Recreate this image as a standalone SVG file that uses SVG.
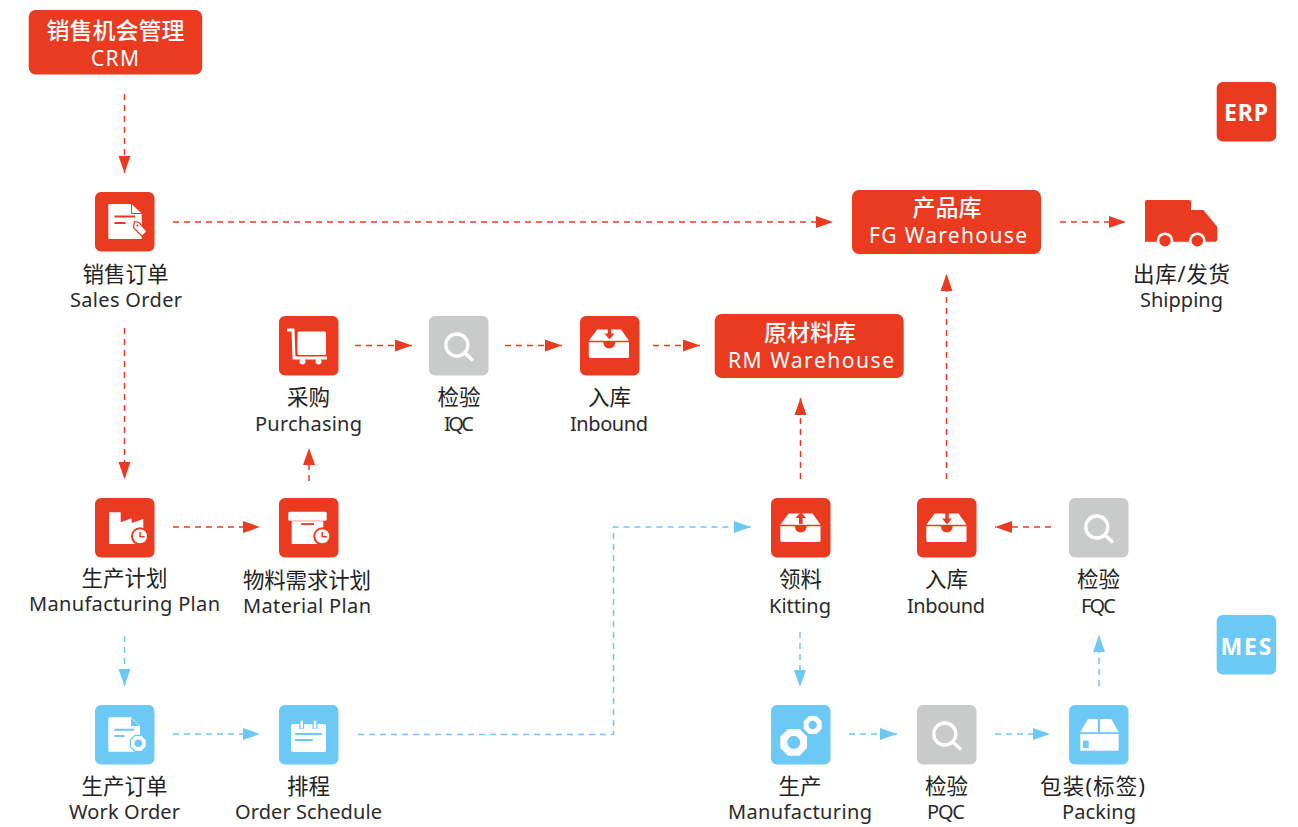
<svg xmlns="http://www.w3.org/2000/svg" width="1298" height="827" viewBox="0 0 1298 827">
<style>
text{font-family:"Noto Sans","Noto Sans CJK SC",sans-serif;text-anchor:middle}
.cn{font-size:21.500px;fill:#222}
.en{font-size:20px;fill:#2a2a2a}
.wcn{font-size:23px;fill:#fff;font-weight:500}
.wen{font-size:21px;fill:#fff}
.tag{font-size:23px;font-weight:700;fill:#fff}
.r{fill:#EA3A20}.b{fill:#6CC8F5}.g{fill:#C9CBCA}.w{fill:#fff}
.lr{fill:none;stroke:#EA3A20;stroke-width:1.5;stroke-dasharray:6 5;marker-end:url(#ar)}
.lb{fill:none;stroke:#6CC8F5;stroke-width:1.5;stroke-dasharray:6 5;marker-end:url(#ab)}
</style>
<defs>
<marker id="ar" markerUnits="userSpaceOnUse" markerWidth="18" markerHeight="14" refX="17" refY="7" orient="auto"><path d="M0 1L17 7L0 13Z" fill="#EA3A20"/></marker>
<marker id="ab" markerUnits="userSpaceOnUse" markerWidth="18" markerHeight="14" refX="17" refY="7" orient="auto"><path d="M0 1L17 7L0 13Z" fill="#6CC8F5"/></marker>
<rect id="tile" width="59.500" height="59.500" rx="6"/>
<g id="mag"><circle cx="27.800" cy="29" r="11" fill="none" stroke="#fff" stroke-width="3.400"/><path d="M35.800 37L44 44.500" stroke="#fff" stroke-width="3.600" fill="none"/></g>
<path id="tray" class="w" d="M17.700 15.500H41.500L49.500 26.800H9.300ZM9.300 28.300H23.800Q24.500 34.500 29.800 34.500Q35 34.500 35.800 28.300H49.500V42.500Q49.500 44 48 44H10.800Q9.300 44 9.300 42.500Z"/>
</defs>

<g id="connectors">
<path class="lr" d="M124.500 94V173"/>
<path class="lr" d="M173 222H833"/>
<path class="lr" d="M1060 222H1126"/>
<path class="lr" d="M124.500 328V479"/>
<path class="lr" d="M173 527H260"/>
<path class="lr" d="M309 481V448"/>
<path class="lr" d="M355 345.500H412"/>
<path class="lr" d="M505 345.500H562"/>
<path class="lr" d="M653 345.500H700"/>
<path class="lr" d="M800.500 479V398"/>
<path class="lr" d="M946.500 479V274"/>
<path class="lr" d="M1051 527H995"/>
<path class="lb" d="M124.500 636V686"/>
<path class="lb" d="M173 734H260"/>
<path class="lb" d="M358 734.500H613.500V527H751"/>
<path class="lb" d="M800 632V687"/>
<path class="lb" d="M849 734H897"/>
<path class="lb" d="M995 734H1050"/>
<path class="lb" d="M1099 686V635"/>
</g>

<g id="crm"><rect class="r" x="28.700" y="10" width="173.500" height="64.500" rx="7"/>
<text class="wcn" x="115.500" y="39">销售机会管理</text><text class="wen" x="115" y="65.500" textLength="48">CRM</text></g>

<g id="erp"><rect class="r" x="1216.700" y="82" width="59.500" height="59.500" rx="6"/><text class="tag" x="1246" y="120.500" textLength="44">ERP</text></g>
<g id="mes"><rect class="b" x="1216.700" y="615" width="59.500" height="59.500" rx="6"/><text class="tag" x="1246" y="654.500" textLength="51">MES</text></g>

<g id="fg"><rect class="r" x="852" y="190" width="189" height="64" rx="7"/>
<text class="wcn" x="947" y="216">产品库</text><text class="wen" x="948" y="243" textLength="158">FG Warehouse</text></g>
<g id="rm"><rect class="r" x="714.700" y="314" width="189" height="64" rx="7"/>
<text class="wcn" x="810" y="341">原材料库</text><text class="wen" x="811" y="368" textLength="166">RM Warehouse</text></g>

<g id="sales-order"><g transform="translate(95 192)"><use href="#tile" class="r"/>
<path class="w" d="M14.500 12H36.500L46.700 21.500V47H14.500Q13.300 47 13.300 45.800V13.200Q13.300 12 14.500 12Z"/><path d="M36.500 12V21.500H46.700" fill="none" stroke="#EA3A20" stroke-width="1"/>
<path d="M19.500 24.500H40M19.500 31H30.500" stroke="#EA3A20" stroke-width="2" fill="none"/>
<path class="w" d="M39.500 29.500L44 30.500L52 39.500L47 44.500L38.500 35.500Z" stroke="#EA3A20" stroke-width="1.200"/><circle class="r" cx="42.300" cy="33.500" r="1"/></g>
<text class="cn" x="125.500" y="282">销售订单</text><text class="en" x="126" y="307" textLength="112">Sales Order</text></g>

<g id="purchasing"><g transform="translate(279 316)"><use href="#tile" class="r"/>
<path d="M8 14H14L15 42H48" fill="none" stroke="#fff" stroke-width="3"/><rect class="w" x="18.500" y="15.500" width="28.500" height="23.500" rx="1.500"/><circle class="w" cx="23.500" cy="45.500" r="3"/><circle class="w" cx="39.500" cy="45.500" r="3"/></g>
<text class="cn" x="308.500" y="405">采购</text><text class="en" x="308.500" y="431" textLength="107">Purchasing</text></g>

<g id="iqc"><g transform="translate(429 316)"><use href="#tile" class="g"/><use href="#mag"/></g>
<text class="cn" x="459" y="405">检验</text><text class="en" x="459" y="431" textLength="30">IQC</text></g>

<g id="inbound-1"><g transform="translate(580 316)"><use href="#tile" class="r"/><use href="#tray" transform="translate(-0.500 -2)"/><path class="r" d="M27.800 12H31.200V17.500H34.500L29.500 23.500L24.500 17.500H27.800Z"/></g>
<text class="cn" x="609.500" y="405">入库</text><text class="en" x="609" y="431" textLength="78">Inbound</text></g>

<g id="shipping"><path class="r" d="M1147 200H1189Q1191 200 1191 202V210H1203.300L1217.300 226.700V239Q1217.300 241.700 1215 241.700H1145V202Q1145 200 1147 200Z"/>
<circle class="r" cx="1165" cy="240.700" r="7" stroke="#fff" stroke-width="2.500"/><circle class="r" cx="1197.300" cy="240.700" r="7" stroke="#fff" stroke-width="2.500"/>
<text class="cn" x="1181.500" y="282" textLength="97">出库/发货</text><text class="en" x="1181.500" y="307" textLength="83">Shipping</text></g>

<g id="manufacturing-plan"><g transform="translate(95 498)"><use href="#tile" class="r"/>
<path class="w" d="M14 14.300H25.700V24.300L36.700 20.300V25L48.300 21V46H14Z"/>
<circle class="r" cx="45" cy="38.300" r="9"/><circle class="w" cx="45" cy="38.300" r="7"/><path d="M45 34V38.800H49.500" fill="none" stroke="#EA3A20" stroke-width="1.500"/></g>
<text class="cn" x="124.500" y="586">生产计划</text><text class="en" x="124.500" y="611" textLength="191">Manufacturing Plan</text></g>

<g id="material-plan"><g transform="translate(279 498)"><use href="#tile" class="r"/>
<rect class="w" x="9.300" y="13.700" width="38.400" height="9" rx="1.500"/><path class="w" d="M12.700 23.300H44.300V46H12.700Z"/><path d="M22 26H35" stroke="#EA3A20" stroke-width="1.800"/>
<circle class="r" cx="43.300" cy="38.300" r="9"/><circle class="w" cx="43.300" cy="38.300" r="7"/><path d="M43.300 34V38.800H47.800" fill="none" stroke="#EA3A20" stroke-width="1.500"/></g>
<text class="cn" x="307" y="588" textLength="128">物料需求计划</text><text class="en" x="307" y="613" textLength="128">Material Plan</text></g>

<g id="work-order"><g transform="translate(95 705)"><use href="#tile" class="b"/>
<path class="w" d="M14.500 12.300H36L45 21V46.700H14.500Q13.300 46.700 13.300 45.500V13.500Q13.300 12.300 14.500 12.300Z"/><path class="b" d="M36 13V21H44.300Z"/>
<path d="M19.300 24.700H39.300M19.300 31H29.500" stroke="#6CC8F5" stroke-width="2" fill="none"/>
<path class="w" d="M40 30.300H46.700L51.300 35V41.700L46.700 46.300H40L35.300 41.700V35Z" stroke="#6CC8F5" stroke-width="1.200"/><circle class="b" cx="43.300" cy="38.300" r="3.800"/></g>
<text class="cn" x="124.500" y="794">生产订单</text><text class="en" x="124.500" y="819" textLength="111">Work Order</text></g>

<g id="order-schedule"><g transform="translate(279 705)"><use href="#tile" class="b"/>
<rect class="w" x="12" y="19" width="35" height="28" rx="2"/><path d="M22.700 15.700V24M36 15.700V24" stroke="#6CC8F5" stroke-width="5"/><path d="M22.700 15.700V23.500M36 15.700V23.500" stroke="#fff" stroke-width="2.400"/>
<path d="M16 29H42.700M16 35H33.700" stroke="#6CC8F5" stroke-width="2" fill="none"/></g>
<text class="cn" x="308.500" y="794">排程</text><text class="en" x="308.500" y="819" textLength="147">Order Schedule</text></g>

<g id="kitting"><g transform="translate(771 498)"><use href="#tile" class="r"/><use href="#tray"/><path class="r" d="M28 26V20H24.500L29.800 14L35 20H31.600V26Z"/></g>
<text class="cn" x="800.500" y="587">领料</text><text class="en" x="800" y="613" textLength="62">Kitting</text></g>

<g id="inbound-2"><g transform="translate(917 498)"><use href="#tile" class="r"/><use href="#tray"/><path class="r" d="M28.300 15H31.700V20.500H35L30 26.500L25 20.500H28.300Z"/></g>
<text class="cn" x="946.500" y="587">入库</text><text class="en" x="946" y="613" textLength="78">Inbound</text></g>

<g id="fqc"><g transform="translate(1069 498)"><use href="#tile" class="g"/><use href="#mag"/></g>
<text class="cn" x="1098.500" y="587">检验</text><text class="en" x="1098.500" y="613" textLength="35">FQC</text></g>

<g id="manufacturing"><g transform="translate(771 705)"><use href="#tile" class="b"/>
<path class="w" d="M17 24H28.500L36 31.500V43L28.500 50.700H17L9.300 43V31.500Z"/><circle class="b" cx="22.700" cy="37.300" r="6.500"/>
<path class="w" d="M38 11H45.500L50.700 16.200V23.700L45.500 29H38L32.700 23.700V16.200Z"/><circle class="b" cx="41.700" cy="20" r="4.200"/></g>
<text class="cn" x="800" y="794">生产</text><text class="en" x="800" y="819" textLength="144">Manufacturing</text></g>

<g id="pqc"><g transform="translate(917 705)"><use href="#tile" class="g"/><use href="#mag"/></g>
<text class="cn" x="946.500" y="794">检验</text><text class="en" x="946" y="819" textLength="38">PQC</text></g>

<g id="packing"><g transform="translate(1069 705)"><use href="#tile" class="b"/>
<path class="w" d="M19 14H29V27.300H11.300ZM31 14H42.300L49.700 27.300H31Z"/><path class="w" d="M11.300 29H49.700V45.700H11.300Z"/><rect class="b" x="14" y="35.700" width="5.700" height="7.300"/></g>
<text class="cn" x="1092.500" y="794" textLength="105">包装(标签)</text><text class="en" x="1099" y="819" textLength="74">Packing</text></g>
</svg>
